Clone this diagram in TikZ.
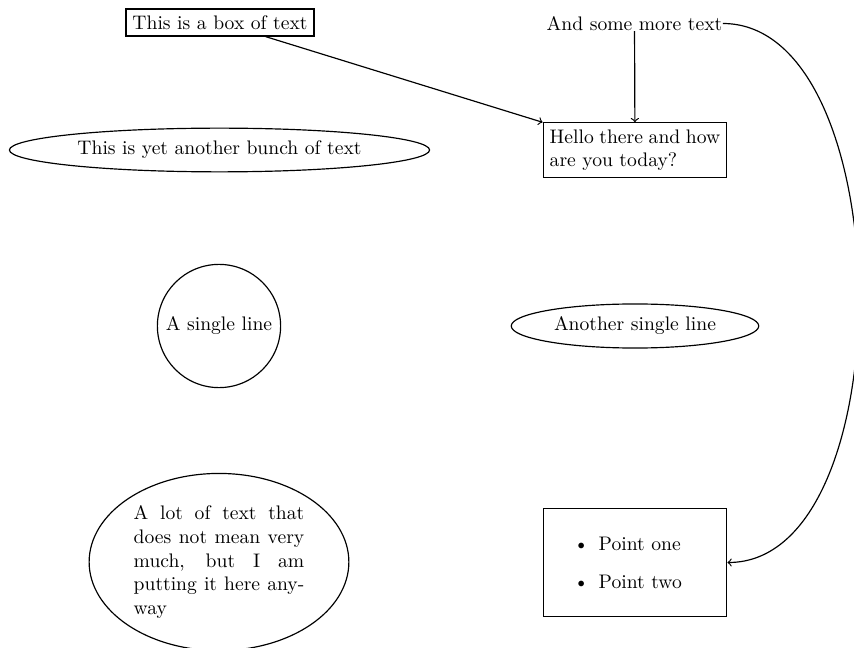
\documentclass[tikz,border=0pt]{standalone}
\usetikzlibrary{shapes.geometric}
\makeatletter
\newcommand\pointlistsetup{\def\@listi{\leftmargin\leftmargini\parsep 4pt\topsep 6pt\itemsep 3.4pt}}
\makeatother
\begin{document}
\begin{tikzpicture}[x=0.51pt,y=-0.51pt,line width=0.6pt,
  boxed/.style={draw,rectangle},
  oval/.style={draw,ellipse},
  round/.style={draw,circle},
  para/.style={text width=87pt},
  plain/.style={inner sep=0pt}]
\useasboundingbox (0,0) rectangle (854,648);
\node[boxed] (box) at (220,22.5) {This is a box of text};
\node[plain] (more) at (634.5,23.5) {And some more text};
\node[boxed,para,align=justify] (hello) at (635,150) {Hello there and how are you today?};
\node[oval] (yet) at (219.5,150) {This is yet another bunch of text};
\node[round] (single) at (219,326) {A single line};
\node[oval] (another) at (635,326) {Another single line};
\node[oval,para,align=justify] (lot) at (219,562) {A lot of text that does not mean very much, but I am putting it here anyway};
\node[boxed,para] (points) at (635,562.5) {\pointlistsetup\begin{itemize}\item Point one\item Point two\end{itemize}\par\vspace{4.6pt}\hrule height 0pt};
\draw[->] (box) -- (hello.north west);
\draw[->] (more) -- (hello);
\draw[->] (more.east) .. controls +(178,0) and +(178,0) .. (points.east);
\end{tikzpicture}
\end{document}
